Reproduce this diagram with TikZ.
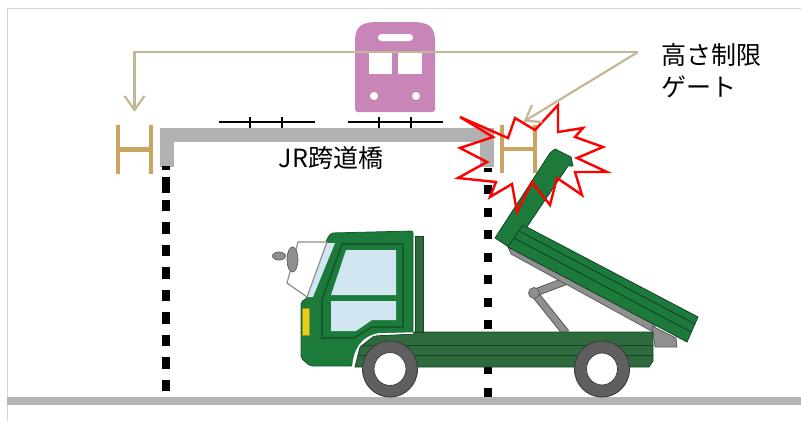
\documentclass[tikz,border=0pt]{standalone}
\usepackage{fontspec}
\newfontfamily\jpfont{Noto Sans CJK JP}
\usetikzlibrary{arrows.meta,calc}

\definecolor{framegray}{HTML}{D4D4D4}
\definecolor{groundgray}{HTML}{B4B4B4}
\definecolor{bridgegray}{HTML}{B1B1B1}
\definecolor{gategold}{HTML}{C9A55F}
\definecolor{connbeige}{HTML}{C3B895}
\definecolor{trainpink}{HTML}{C886B8}
\definecolor{cabgreen}{HTML}{1C7A3B}
\definecolor{chassisgreen}{HTML}{2E6A3B}
\definecolor{darkline}{HTML}{17432A}
\definecolor{doorline}{HTML}{145A2B}
\definecolor{glass}{HTML}{D2E6F2}
\definecolor{partgray}{HTML}{8F8F8F}
\definecolor{edgegray}{HTML}{5A5A5A}
\definecolor{tiregray}{HTML}{5F5F5F}
\definecolor{lampyellow}{HTML}{E6D01E}

\tikzset{
  frameline/.style={draw=framegray, line width=1pt},
  bridgebar/.style={draw=bridgegray, line width=14pt, line join=miter},
  pierdash/.style={draw=black, line width=8pt},
  railline/.style={draw=black, line width=1.8pt},
  gatebox/.style={minimum width=33pt, minimum height=49pt, inner sep=0pt},
  gatebar/.style={draw=gategold, line width=4.3pt},
  conn/.style={draw=connbeige, line width=2.2pt, -{Straight Barb[length=14pt,width=20pt]}},
  lbl/.style={font=\jpfont\fontsize{25}{32}\selectfont, inner sep=0pt, align=left},
  greenpart/.style={fill=cabgreen, draw=darkline, line width=0.8pt},
  graypart/.style={fill=partgray, draw=edgegray, line width=0.7pt},
  tire/.style={fill=tiregray, draw=edgegray!70!black, line width=1pt},
  hub/.style={fill=white, draw=edgegray!70!black, line width=0.8pt},
  burst/.style={draw=red, line width=2.4pt, line join=miter},
}

\begin{document}
\begin{tikzpicture}[x=1pt,y=-1pt]
\useasboundingbox (0,0) rectangle (801,421);

% outer frame and road
\draw[frameline] (7,421) -- (7,8) -- (801,8);
\fill[groundgray] (7,397) rectangle (801,405);

% bridge deck and pier lines
\draw[bridgebar] (167,167) -- (167,135) -- (487,135) -- (487,167);
\draw[pierdash] (165.5,166) -- (165.5,170);
\draw[pierdash] (165.5,177) -- (165.5,193);
\draw[pierdash, dash pattern=on 11.5pt off 11pt] (165.5,199.5) -- (165.5,392);
\draw[pierdash, dash pattern=on 9pt off 13.5pt, dash phase=5.5pt] (487.5,168) -- (487.5,398);

% rails on the deck
\draw[railline] (219,122) -- (315,122);
\draw[railline] (250,117) -- (250,128) (282,117) -- (282,128);
\draw[railline] (348,122) -- (443,122);
\draw[railline] (379,117) -- (379,128) (411,117) -- (411,128);

% train
\fill[trainpink] (355,109) -- (355,42) .. controls (355,25) and (362,22) .. (380,22)
  -- (410,22) .. controls (428,22) and (435,25) .. (435,42) -- (435,109)
  .. controls (435,111) and (434,112) .. (432,112) -- (358,112)
  .. controls (356,112) and (355,111) .. (355,109) -- cycle;
\fill[white, rounded corners=3.5pt] (378,34) rectangle (413,41);
\fill[white] (369,53) rectangle (392,74);
\fill[white] (398,53) rectangle (422,74);
\fill[white] (374,96) circle [radius=4];
\fill[white] (416,96) circle [radius=4];

% height limit gates
\node[gatebox] (gateL) at (134.5,149.5) {};
\node[gatebox, minimum width=32pt, minimum height=48pt] (gateR) at (518.5,149) {};
\draw[gatebar] (gateL.north west) -- (gateL.south west)
               (gateL.north east) -- (gateL.south east)
               (gateL.west) -- (gateL.east);
\draw[gatebar] (gateR.north west) -- (gateR.south west)
               (gateR.north east) -- (gateR.south east)
               (gateR.west) -- (gateR.east);

% dump truck: hoist arms
\draw[line width=8pt, draw=edgegray] (534,293) -- (566,281);
\draw[line width=6pt, draw=partgray] (534,293) -- (566,281);
\draw[line width=8pt, draw=edgegray] (534,293) -- (566,333);
\draw[line width=6pt, draw=partgray] (534,293) -- (566,333);
\filldraw[graypart] (534,293) circle [radius=5.5];

% dump body underside and hinge block
\filldraw[graypart] (508,247) -- (655,325) -- (655,333) -- (511,254) -- cycle;
\filldraw[graypart] (652,326) -- (676,338) -- (677,347) -- (655,347) -- cycle;

% raised front panel and dump body side
\filldraw[greenpart] (495,238) -- (550,153) -- (555,149) -- (571,157) -- (573,166)
  -- (568,166) -- (512,249) -- cycle;
\filldraw[greenpart] (523,225) -- (698,317) -- (687,342) -- (508,247) -- cycle;
\draw[darkline, line width=1pt] (519,231) -- (695,324);
\draw[darkline, line width=1pt] (514,238) -- (691,332);

% chassis
\filldraw[fill=chassisgreen, draw=darkline, line width=0.8pt]
  (413,332) -- (653,332) -- (653,361) -- (649,367) -- (355,367) -- (360,347)
  -- (374,336) -- (413,334) -- cycle;
\draw[darkline, line width=1pt] (362,345) -- (653,345);
\draw[darkline, line width=1pt] (358,355) -- (653,355);
\filldraw[fill=chassisgreen, draw=darkline, line width=0.6pt] (415,236) rectangle (423,332);

% cab
\filldraw[fill=cabgreen, draw=doorline, line width=0.8pt, rounded corners=2pt]
  (331,233) -- (413,231) -- (413,333) -- (378,334)
  .. controls (362,337) and (354,350) .. (353,366)
  -- (310,366) -- (301,358) -- (301,302) -- (307,298) -- (327,239) -- cycle;
\draw[white, line width=1.5pt] (413,333) -- (378,334)
  .. controls (362,337) and (354,350) .. (353,366);
\draw[doorline, line width=1.8pt] (342,244) -- (403,244) -- (403,327) -- (372,327)
  -- (354,338) -- (322,338) -- (322,300) -- cycle;
\fill[glass] (346,250) -- (396,250) -- (396,295) -- (331,295) -- cycle;
\fill[glass] (331,301) -- (396,301) -- (396,320) -- (372,320) -- (356,331) -- (331,331) -- cycle;
\fill[glass] (327,243) -- (335,243) -- (313,297) -- (307,297) -- cycle;
\filldraw[fill=white, draw=partgray, line width=1.2pt] (298,242) -- (327,242) -- (307,297) -- (287,283) -- cycle;
\filldraw[graypart] (279,256) ellipse [x radius=6.5, y radius=4];
\filldraw[graypart] (292.5,259.5) ellipse [x radius=5.5, y radius=12.5];
\filldraw[fill=lampyellow, draw=lampyellow!70!black, line width=0.5pt] (302.5,308) rectangle (309,335);

% wheels
\filldraw[tire] (390,369) ellipse [x radius=27.5, y radius=28];
\filldraw[hub] (390,369) ellipse [x radius=16, y radius=16.5];
\filldraw[tire] (602,369) ellipse [x radius=27.5, y radius=28];
\filldraw[hub] (602,369) ellipse [x radius=15.5, y radius=16];

% impact burst
\draw[burst] (460,117) -- (493,137) -- (460,148) -- (487,162) -- (458,178) -- (496,182)
  -- (490,197) -- (512,184) -- (517,212) -- (532,182) -- (550,205) -- (557,178)
  -- (582,195) -- (575,172) -- (607,172) -- (577,158) -- (603,147) -- (575,137)
  -- (583,128) -- (558,132) -- (558,105) -- (535,130) -- (515,118) -- (508,138) -- cycle;

% labels and pointers
\node[lbl] (bridgelbl) at (331,158) {JR跨道橋};
\node[lbl, anchor=west] (gatelbl) at (661,71) {高さ制限\\ゲート};
\coordinate (jn) at (638,52);
\draw[conn, shorten >=13pt] (jn) -| (gateL.north);
\draw[conn, shorten >=6pt] (jn) -- (gateR.north);
\end{tikzpicture}
\end{document}
